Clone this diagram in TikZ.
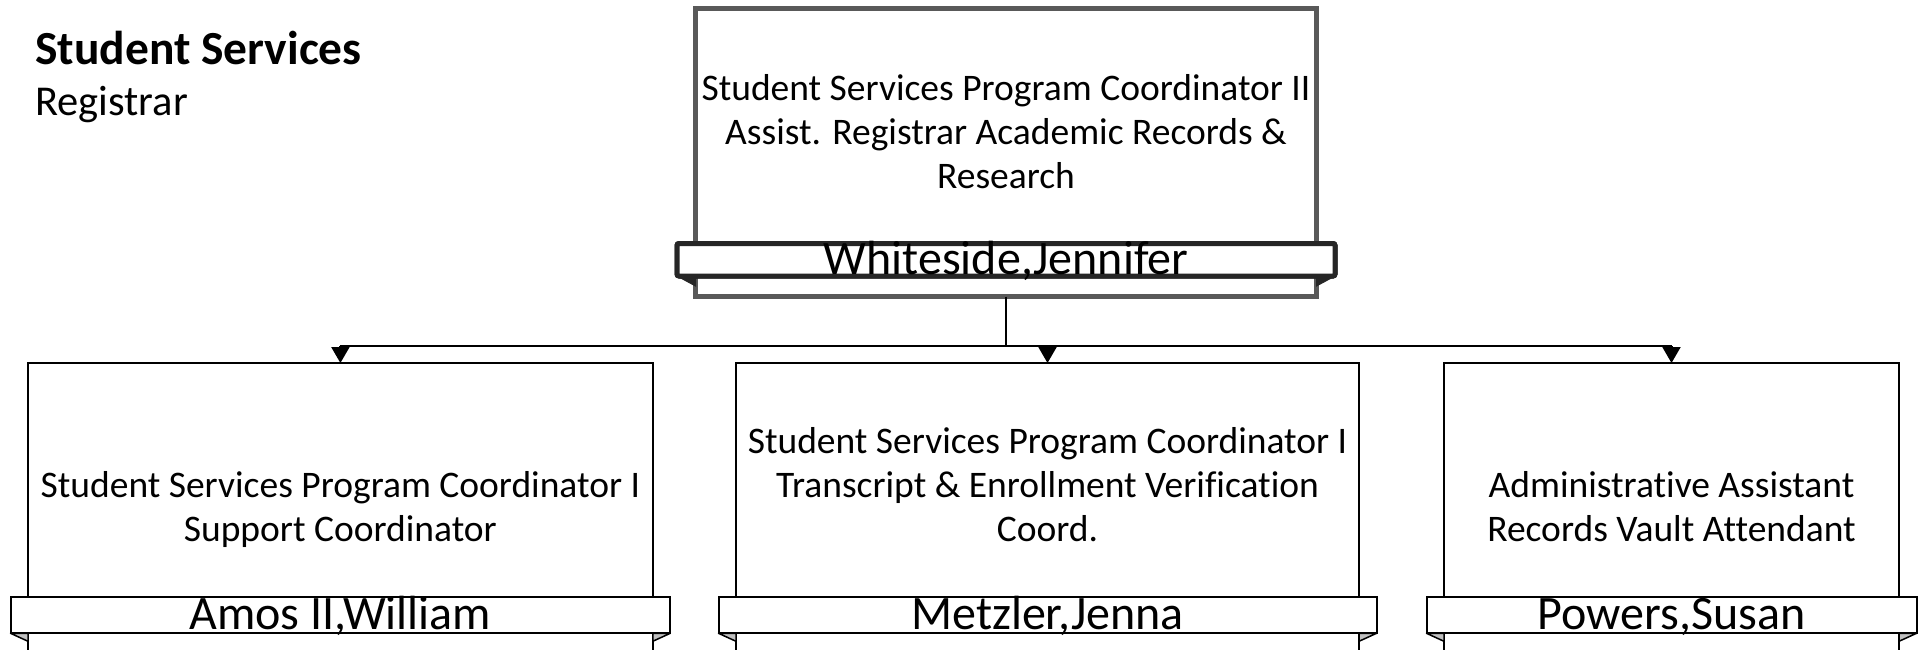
\documentclass[tikz,border=0pt]{standalone}
\usepackage{fontspec}
\setmainfont{Carlito}[Ligatures=NoCommon]
\usetikzlibrary{arrows.meta}
\definecolor{rootgray}{HTML}{595959}
\definecolor{rootdark}{HTML}{262626}
\definecolor{foldgray}{HTML}{BFBFBF}
\tikzset{
  rootbox/.style={draw=rootgray, line width=5pt, rectangle, inner sep=0pt, outer sep=0pt},
  rootplate/.style={draw=rootdark, line width=5pt, fill=white, rounded corners=2pt, rectangle, inner sep=0pt, outer sep=0pt},
  posbox/.style={draw=black, line width=2pt, rectangle, inner sep=0pt, outer sep=0pt},
  plate/.style={draw=black, line width=2pt, fill=white, rectangle, inner sep=0pt, outer sep=0pt},
  fold/.style={fill=foldgray, draw=black, line width=1.5pt, line join=round},
  rootfold/.style={fill=rootdark, draw=rootdark, line width=1pt},
  titletext/.style={inner sep=0pt, anchor=north, align=center, font=\fontsize{37.5}{44}\selectfont},
  nametext/.style={inner sep=0pt, anchor=base, font=\fontsize{48}{56}\selectfont},
  link/.style={line width=2pt, draw=black},
  arr/.style={-{Triangle[width=18pt,length=16pt]}, line width=2pt},
}
\begin{document}
\begin{tikzpicture}[x=1pt,y=-1pt]
\useasboundingbox (0,0) rectangle (1923,650);
\clip (0,0) rectangle (1923,650);

% header
\node[anchor=base west, inner sep=0pt, font=\fontsize{47.5}{54}\selectfont\bfseries] (hdr) at (35,64.5) {Student Services};
\node[anchor=base west, inner sep=0pt, font=\fontsize{42.5}{50}\selectfont] (sub) at (35,115.5) {Registrar};

% root
\node[rootbox, minimum width=621pt, minimum height=288pt] (root) at (1006,152.6) {};
\node[titletext] (roott) at (1006,69.5) {\strut Student Services Program Coordinator II\\\strut Assist. Registrar Academic Records \&\\\strut Research};
\node[rootplate, minimum width=658pt, minimum height=32.5pt] (rootp) at (1006,259.75) {};
\fill[rootfold] (rootp.south west) -- (rootp.south west -| root.west) -- ++(0,10) -- cycle;
\fill[rootfold] (rootp.south east) -- (rootp.south east -| root.east) -- ++(0,10) -- cycle;
\node[rootplate, minimum width=658pt, minimum height=32.5pt] at (1006,259.75) {};
\node[nametext] (rootn) at (1006,274.5) {Whiteside,Jennifer};

% children boxes
\node[posbox, minimum width=624.7pt, minimum height=337pt] (b1) at (340.4,531.5) {};
\node[posbox, minimum width=623pt, minimum height=337pt] (b2) at (1047.5,531.5) {};
\node[posbox, minimum width=455pt, minimum height=337pt] (b3) at (1671.5,531.5) {};

\node[titletext] (t1) at (340.4,466.8) {\strut Student Services Program Coordinator I\\\strut Support Coordinator};
\node[titletext] (t2) at (1047.5,422.2) {\strut Student Services Program Coordinator I\\\strut Transcript \& Enrollment Verification\\\strut Coord.};
\node[titletext] (t3) at (1671.5,466.8) {\strut Administrative Assistant\\\strut Records Vault Attendant};

% plates
\node[plate, minimum width=659.7pt, minimum height=36.6pt] (p1) at (340.4,615) {};
\node[plate, minimum width=658pt, minimum height=36.6pt] (p2) at (1047.5,615) {};
\node[plate, minimum width=490pt, minimum height=36.6pt] (p3) at (1671.5,615) {};
\foreach \b/\p in {b1/p1,b2/p2,b3/p3}{
  \filldraw[fold] (\p.south west) -- (\p.south west -| \b.west) -- ++(0,8) -- cycle;
  \filldraw[fold] (\p.south east) -- (\p.south east -| \b.east) -- ++(0,8) -- cycle;
}
\node[nametext] (n1) at (340.4,629) {Amos II,William};
\node[nametext] (n2) at (1047.5,629) {Metzler,Jenna};
\node[nametext] (n3) at (1671.5,629) {Powers,Susan};

% connectors
\coordinate (bus) at (1006,346);
\draw[link] (root.south) -- (bus);
\draw[link] (bus -| b1.north) -- (bus -| b3.north);
\draw[arr] (bus -| b1.north) -- (b1.north);
\draw[arr] (bus -| b2.north) -- (b2.north);
\draw[arr] (bus -| b3.north) -- (b3.north);
\end{tikzpicture}
\end{document}
